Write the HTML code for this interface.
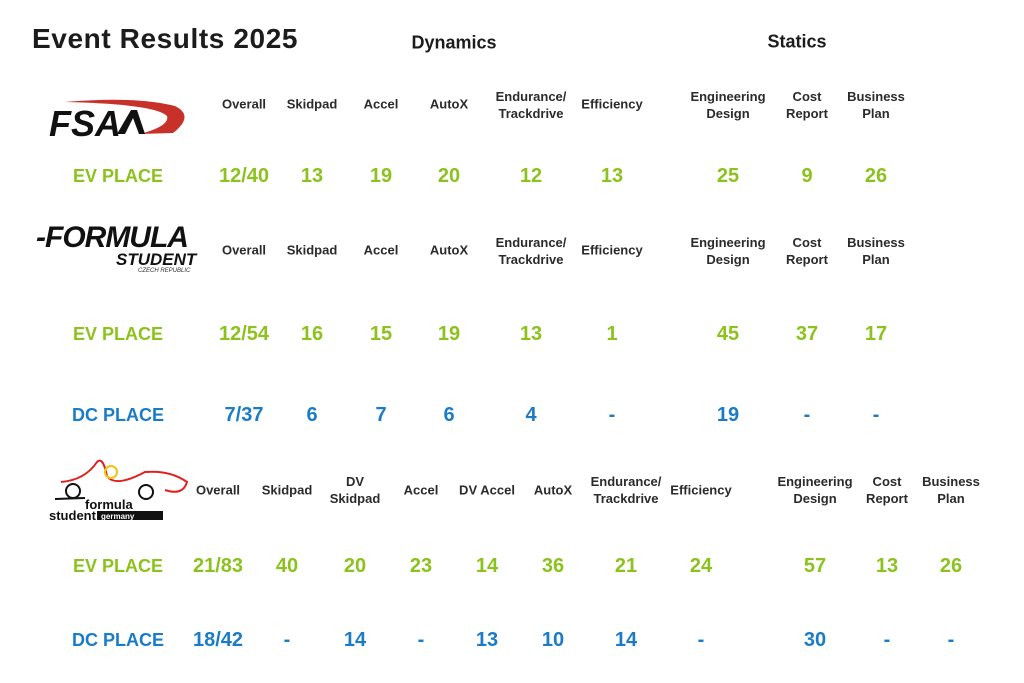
<!DOCTYPE html>
<html><head><meta charset="utf-8"><style>
body{margin:0;width:1024px;height:683px;background:#fff;position:relative;overflow:hidden;font-family:"Liberation Sans",sans-serif;font-weight:bold}
div{position:absolute;white-space:nowrap}
.h{font-size:13px;color:#2b2b2b;text-align:center;line-height:17px;transform:translate(-50%,-50%)}
.v{font-size:20px;transform:translate(-50%,-50%);line-height:22px}
.g{color:#8cc21d}.b{color:#1a7cc6}
.t{font-size:28px;color:#1c1c1c;left:32px;top:23px;letter-spacing:0.6px}
.s{font-size:18px;color:#1c1c1c;transform:translate(-50%,-50%)}
</style></head><body>
<div class="t">Event Results 2025</div>
<div class="s" style="left:454px;top:43px">Dynamics</div>
<div class="s" style="left:797px;top:42px">Statics</div>

<!-- FSA logo -->
<svg style="position:absolute;left:45px;top:98px" width="145" height="42" viewBox="0 0 145 42">
<path d="M20 4 Q90 -2 130 8 Q150 18 128 35 L95 36 Q125 28 122 18 Q110 6 20 4Z" fill="#c8302a"/>
<text x="4" y="38" font-family="Liberation Sans" font-weight="bold" font-style="italic" font-size="36" fill="#111">FSA</text>
<path d="M72 36 L86 12 L92 12 L100 36 L94 36 L88 20 L80 36Z" fill="#111"/>
</svg>

<!-- FS Czech logo -->
<div style="left:36px;top:221px;font-size:30px;font-style:italic;color:#111;letter-spacing:-1px">-FORMULA</div>
<div style="left:116px;top:250px;font-size:17px;font-style:italic;color:#111">STUDENT</div>
<div style="left:138px;top:268px;font-size:6px;font-weight:normal;font-style:italic;color:#333">CZECH REPUBLIC</div>

<!-- FSG logo -->
<svg style="position:absolute;left:45px;top:458px" width="145" height="65" viewBox="0 0 145 65">
<path d="M16 24 Q40 22 52 4 Q58 -2 62 18 Q70 30 100 14 Q125 12 142 24 Q138 38 120 32" fill="none" stroke="#e02020" stroke-width="2"/>
<circle cx="66" cy="14" r="6" fill="none" stroke="#f1c40f" stroke-width="2"/>
<circle cx="28" cy="33" r="7" fill="none" stroke="#111" stroke-width="2"/>
<circle cx="101" cy="34" r="7" fill="none" stroke="#111" stroke-width="2"/>
<path d="M10 41 L40 40" stroke="#111" stroke-width="2"/>
<text x="40" y="51" font-family="Liberation Sans" font-size="13" fill="#111">formula</text>
<text x="4" y="62" font-family="Liberation Sans" font-size="13" fill="#111">student</text>
<rect x="52" y="53" width="66" height="9" fill="#111"/>
<text x="56" y="61" font-family="Liberation Sans" font-size="8" fill="#fff">germany</text>
</svg>

<!-- FSA -->
<div class="h" style="left:244px;top:104px">Overall</div>
<div class="h" style="left:312px;top:104px">Skidpad</div>
<div class="h" style="left:381px;top:104px">Accel</div>
<div class="h" style="left:449px;top:104px">AutoX</div>
<div class="h" style="left:531px;top:105px">Endurance/<br>Trackdrive</div>
<div class="h" style="left:612px;top:104px">Efficiency</div>
<div class="h" style="left:728px;top:105px">Engineering<br>Design</div>
<div class="h" style="left:807px;top:105px">Cost<br>Report</div>
<div class="h" style="left:876px;top:105px">Business<br>Plan</div>
<div class="v g" style="left:118px;top:176px;font-size:18px">EV PLACE</div>
<div class="v g" style="left:244px;top:176px">12/40</div>
<div class="v g" style="left:312px;top:176px">13</div>
<div class="v g" style="left:381px;top:176px">19</div>
<div class="v g" style="left:449px;top:176px">20</div>
<div class="v g" style="left:531px;top:176px">12</div>
<div class="v g" style="left:612px;top:176px">13</div>
<div class="v g" style="left:728px;top:176px">25</div>
<div class="v g" style="left:807px;top:176px">9</div>
<div class="v g" style="left:876px;top:176px">26</div>

<!-- FSCZ -->
<div class="h" style="left:244px;top:250px">Overall</div>
<div class="h" style="left:312px;top:250px">Skidpad</div>
<div class="h" style="left:381px;top:250px">Accel</div>
<div class="h" style="left:449px;top:250px">AutoX</div>
<div class="h" style="left:531px;top:251px">Endurance/<br>Trackdrive</div>
<div class="h" style="left:612px;top:250px">Efficiency</div>
<div class="h" style="left:728px;top:251px">Engineering<br>Design</div>
<div class="h" style="left:807px;top:251px">Cost<br>Report</div>
<div class="h" style="left:876px;top:251px">Business<br>Plan</div>
<div class="v g" style="left:118px;top:334px;font-size:18px">EV PLACE</div>
<div class="v g" style="left:244px;top:334px">12/54</div>
<div class="v g" style="left:312px;top:334px">16</div>
<div class="v g" style="left:381px;top:334px">15</div>
<div class="v g" style="left:449px;top:334px">19</div>
<div class="v g" style="left:531px;top:334px">13</div>
<div class="v g" style="left:612px;top:334px">1</div>
<div class="v g" style="left:728px;top:334px">45</div>
<div class="v g" style="left:807px;top:334px">37</div>
<div class="v g" style="left:876px;top:334px">17</div>
<div class="v b" style="left:118px;top:415px;font-size:18px">DC PLACE</div>
<div class="v b" style="left:244px;top:415px">7/37</div>
<div class="v b" style="left:312px;top:415px">6</div>
<div class="v b" style="left:381px;top:415px">7</div>
<div class="v b" style="left:449px;top:415px">6</div>
<div class="v b" style="left:531px;top:415px">4</div>
<div class="v b" style="left:612px;top:415px">-</div>
<div class="v b" style="left:728px;top:415px">19</div>
<div class="v b" style="left:807px;top:415px">-</div>
<div class="v b" style="left:876px;top:415px">-</div>

<!-- FSG -->
<div class="h" style="left:218px;top:490px">Overall</div>
<div class="h" style="left:287px;top:490px">Skidpad</div>
<div class="h" style="left:355px;top:490px">DV<br>Skidpad</div>
<div class="h" style="left:421px;top:490px">Accel</div>
<div class="h" style="left:487px;top:490px">DV Accel</div>
<div class="h" style="left:553px;top:490px">AutoX</div>
<div class="h" style="left:626px;top:490px">Endurance/<br>Trackdrive</div>
<div class="h" style="left:701px;top:490px">Efficiency</div>
<div class="h" style="left:815px;top:490px">Engineering<br>Design</div>
<div class="h" style="left:887px;top:490px">Cost<br>Report</div>
<div class="h" style="left:951px;top:490px">Business<br>Plan</div>
<div class="v g" style="left:118px;top:566px;font-size:18px">EV PLACE</div>
<div class="v g" style="left:218px;top:566px">21/83</div>
<div class="v g" style="left:287px;top:566px">40</div>
<div class="v g" style="left:355px;top:566px">20</div>
<div class="v g" style="left:421px;top:566px">23</div>
<div class="v g" style="left:487px;top:566px">14</div>
<div class="v g" style="left:553px;top:566px">36</div>
<div class="v g" style="left:626px;top:566px">21</div>
<div class="v g" style="left:701px;top:566px">24</div>
<div class="v g" style="left:815px;top:566px">57</div>
<div class="v g" style="left:887px;top:566px">13</div>
<div class="v g" style="left:951px;top:566px">26</div>
<div class="v b" style="left:118px;top:640px;font-size:18px">DC PLACE</div>
<div class="v b" style="left:218px;top:640px">18/42</div>
<div class="v b" style="left:287px;top:640px">-</div>
<div class="v b" style="left:355px;top:640px">14</div>
<div class="v b" style="left:421px;top:640px">-</div>
<div class="v b" style="left:487px;top:640px">13</div>
<div class="v b" style="left:553px;top:640px">10</div>
<div class="v b" style="left:626px;top:640px">14</div>
<div class="v b" style="left:701px;top:640px">-</div>
<div class="v b" style="left:815px;top:640px">30</div>
<div class="v b" style="left:887px;top:640px">-</div>
<div class="v b" style="left:951px;top:640px">-</div>
</body></html>
